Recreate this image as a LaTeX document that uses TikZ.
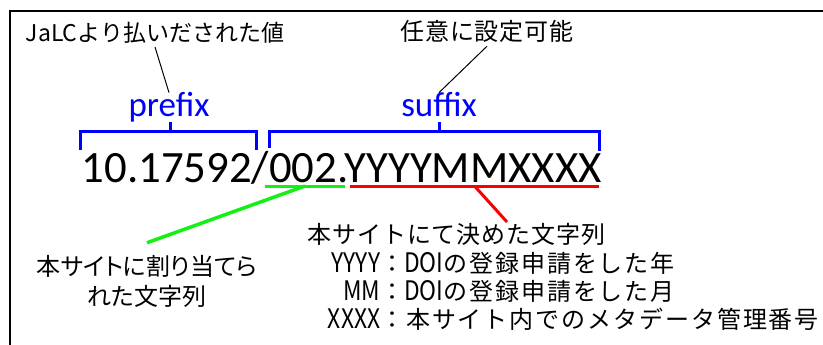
\documentclass[tikz,border=0pt]{standalone}
\usepackage{fontspec}
\usepackage{graphicx}
\setmainfont{Carlito}
\newfontfamily\jp{Noto Sans CJK JP}
\newfontfamily\jpp{Noto Sans CJK JP}[RawFeature=+palt]
\newfontfamily\jplsa{Noto Sans CJK JP}[LetterSpace=4]
\newfontfamily\jplsb{Noto Sans CJK JP}[LetterSpace=8]
\usetikzlibrary{calc}
\definecolor{bblue}{RGB}{0,0,255}
\definecolor{ggreen}{RGB}{20,240,20}
\definecolor{rred}{RGB}{250,0,0}
\newcommand\keytxt[1]{\makebox[52pt][r]{\jp\scalebox{0.95}[1.12]{#1}}}
\newcommand\halfw[1]{{\jp\scalebox{0.95}[1.12]{#1}}}
\tikzset{
  bracketline/.style={draw=bblue, line width=3pt},
  leader/.style={draw=black, line width=1pt},
  label jp/.style={inner sep=0pt, font=\fontsize{23}{28}\selectfont\jp},
  blue label/.style={inner sep=0pt, text=bblue, font=\fontsize{35}{40}\selectfont},
  key line/.style={anchor=base west, inner sep=0pt, font=\fontsize{24}{28}\selectfont\jplsb},
}
\begin{document}
\begin{tikzpicture}[x=1pt,y=-1pt]
\useasboundingbox (0,0) rectangle (823,345);
% frame (only top and left edges visible)
\draw[line width=2.5pt] (10,347) -- (10,11) -- (825,11);

% top labels
\node[label jp, anchor=base, inner sep=3pt] (jalc) at (155,42) {JaLCより払いだされた値};
\node[label jp, anchor=base, inner sep=3pt, font=\fontsize{24}{28}\selectfont\jplsa] (free) at (487,41) {任意に設定可能};

\node[blue label, anchor=base] (prefix) at (169,117) {prefix};
\node[blue label, anchor=base] (suffix) at (439,117) {suffix};

\draw[leader] (jalc.south) -- (prefix.north);
\draw[leader] (free.south) -- (suffix.north);

% brackets
\draw[bracketline] (80,150) -- (80,132) -- (256,132) -- (256,150);
\draw[bracketline] (170,132) -- (170,122);
\draw[bracketline] (269,148) -- (269,132) -- (599,132) -- (599,151);
\draw[bracketline] (439,132) -- (439,122);

% main identifier
\node[anchor=base west, inner sep=0pt, font=\fontsize{44.8}{50}\selectfont] (doi) at (81.5,182.5) {10.17592/002.YYYYMMXXXX};

% underlines
\coordinate (g1) at (265,186);
\coordinate (g2) at (345,186);
\coordinate (r1) at (350,186);
\coordinate (r2) at (599,186);
\draw[ggreen, line width=3pt] (g1) -- (g2);
\draw[rred, line width=3pt] (r1) -- (r2);

% bottom-left note
\node[inner sep=0pt, align=center, font=\fontsize{24}{30}\selectfont\jpp] (assign) at (147,281) {本サイトに割り当てら\\れた文字列};
\draw[ggreen, line width=3.5pt] ($(g1)!0.5!(g2)$) -- ([yshift=12pt]assign.north);

% bottom-right note
\node[anchor=base west, inner sep=0pt, font=\fontsize{24}{28}\selectfont\jplsa] (decided) at (307,243) {本サイトにて決めた文字列};
\coordinate (redend) at (507,222);
\draw[rred, line width=3pt] ($(r1)!0.5!(r2)$) -- (redend);

\node[key line] (yyyy) at (328,272) {\keytxt{YYYY}：\halfw{DOI}の登録申請をした年};
\node[key line] (mm) at (328,300) {\keytxt{MM}：\halfw{DOI}の登録申請をした月};
\node[key line] (xxxx) at (328,328) {\keytxt{XXXX}：本サイト内でのメタデータ管理番号};
\end{tikzpicture}
\end{document}
